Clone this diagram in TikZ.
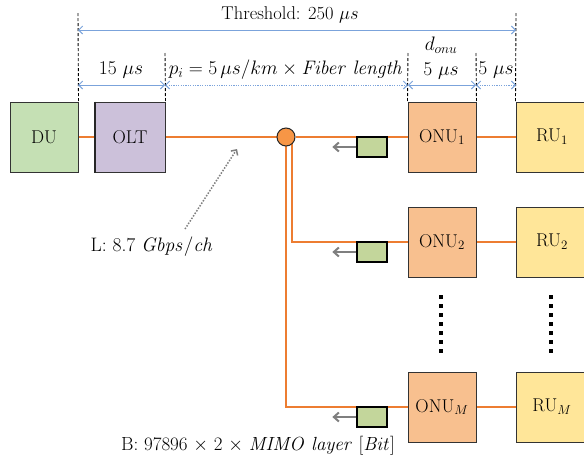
\RequirePackage{fix-cm}
\documentclass[tikz,border=0pt]{standalone}
\usetikzlibrary{arrows.meta,backgrounds}
\definecolor{dugreen}{HTML}{C5E0B4}
\definecolor{oltpurple}{HTML}{CCC1DA}
\definecolor{onuorange}{HTML}{F8C08F}
\definecolor{ruyellow}{HTML}{FFE699}
\definecolor{sfpgreen}{HTML}{C3D69B}
\definecolor{fiberorange}{HTML}{ED7D31}
\definecolor{circorange}{HTML}{F79646}
\definecolor{dimblue}{HTML}{7BA3DB}
\definecolor{arrgrey}{HTML}{7F7F7F}
\begin{document}
\begin{tikzpicture}[x=1pt,y=-1pt,font=\fontsize{18.5}{22}\selectfont,
  blk/.style={draw=black!80,line width=1pt,minimum width=68pt,minimum height=70pt,inner sep=0pt},
  fib/.style={draw=fiberorange,line width=1.2pt},
  dimarr/.style={draw=dimblue,line width=1pt,{Straight Barb[length=4pt,width=8pt]}-{Straight Barb[length=4pt,width=8pt]}},
  dimdot/.style={dimarr,dash pattern=on 1.2pt off 1.2pt},
  vdash/.style={draw=black,line width=0.9pt,dash pattern=on 3pt off 2pt},
  sfp/.style={draw=black,line width=1.3pt,fill=sfpgreen,minimum width=30pt,minimum height=20pt,inner sep=0pt},
  garr/.style={draw=arrgrey,line width=2pt,-{Straight Barb[length=5pt,width=9pt]}},
  lbl/.style={inner sep=0pt},
  mlbl/.style={inner sep=0pt,font=\fontsize{19.5}{22}\selectfont}]
\clip (0,0) rectangle (584,456);
% boxes
\node[blk,fill=dugreen] (du) at (44,137) {DU};
\node[blk,fill=oltpurple,minimum width=70pt] (olt) at (130,137) {OLT};
\draw[line width=2pt,black!85] (olt.north west) -- (olt.south west);
\node[circle,draw=black!85,line width=1pt,fill=circorange,minimum size=18pt,inner sep=0pt] (sp) at (286,137) {};
\node[blk,fill=onuorange] (onu1) at (442,137) {ONU$_1$};
\node[blk,fill=onuorange] (onu2) at (442,242) {ONU$_2$};
\node[blk,fill=onuorange] (onum) at (442,407) {ONU$_M$};
\node[blk,fill=ruyellow,minimum width=72pt] (ru1) at (552,137) {RU$_1$};
\node[blk,fill=ruyellow,minimum width=72pt] (ru2) at (552,242) {RU$_2$};
\node[blk,fill=ruyellow,minimum width=72pt] (rum) at (552,407) {RU$_M$};
% sfp modules
\node[sfp] (s1) at (372,147) {};
\node[sfp] (s2) at (372,252) {};
\node[sfp] (sm) at (372,417) {};
% fibers
\begin{scope}[on background layer]
\draw[fib] (du) -- (olt);
\draw[fib] (olt) -- (sp);
\draw[fib] (sp) -- (onu1);
\draw[fib] (onu1) -- (ru1);
\draw[fib] (onu2) -- (ru2);
\draw[fib] (onum) -- (rum);
\draw[fib] (sp.center) |- (onum.west);
\draw[fib] ([xshift=6pt]sp.center) |- (onu2.west);
\end{scope}
% grey arrows
\draw[garr] (s1.west) -- ++(-24,0);
\draw[garr] (s2.west) -- ++(-24,0);
\draw[garr] (sm.west) -- ++(-24,0);
% dots
\foreach \yy in {295,304,...,350} {
  \fill (439,\yy) rectangle (443,\yy+4);
  \fill (549,\yy) rectangle (553,\yy+4);
}
% dimension guides
\coordinate (g1) at (78,13);
\coordinate (g2) at (165,53);
\coordinate (g3) at (408,53);
\coordinate (g4) at (476,53);
\coordinate (g5) at (516,13);
\draw[vdash] (g1) -- (du.north east);
\draw[vdash] (g2) -- (olt.north east);
\draw[vdash] (g3) -- (onu1.north west);
\draw[vdash] (g4) -- (onu1.north east);
\draw[vdash] (g5) -- (ru1.north west);
\coordinate (h1) at (78,30);
\coordinate (h5) at (516,30);
\coordinate (r1) at (78,85);
\coordinate (r2) at (165,85);
\coordinate (r3) at (408,85);
\coordinate (r4) at (476,85);
\coordinate (r5) at (516,85);
\draw[dimarr] (h1) -- (h5);
\draw[dimarr] (r1) -- (r2);
\draw[dimdot] (r2) -- (r3);
\draw[dimarr] (r3) -- (r4);
\draw[dimdot] (r4) -- (r5);
% labels
\node[lbl] (thr) at (290,15) {Threshold: 250 $\mu s$};
\node[mlbl] (d15) at (121,70) {15 $\mu s$};
\node[mlbl] (dpi) at (286,70) {$p_i = 5\,\mu s/km \times \mathit{Fiber\ length}$};
\node[mlbl] (donu) at (441,45) {$d_{onu}$};
\node[mlbl] (d5a) at (441,71) {5 $\mu s$};
\node[mlbl] (d5b) at (496,70) {5 $\mu s$};
\node[mlbl] (lab) at (152,247) {L: 8.7 $\mathit{Gbps/ch}$};
\node[lbl,font=\fontsize{19}{22}\selectfont] (bab) at (258,446) {B: 97896 $\times$ 2 $\times$ $\mathit{MIMO\ layer}$ $[\mathit{Bit}]$};
\coordinate (ltip) at (237,149);
\draw[arrgrey,line width=1.5pt,dash pattern=on 1.5pt off 1.5pt,-{Straight Barb[length=4pt,width=8pt]}] (185,229) -- (ltip);
\end{tikzpicture}
\end{document}
